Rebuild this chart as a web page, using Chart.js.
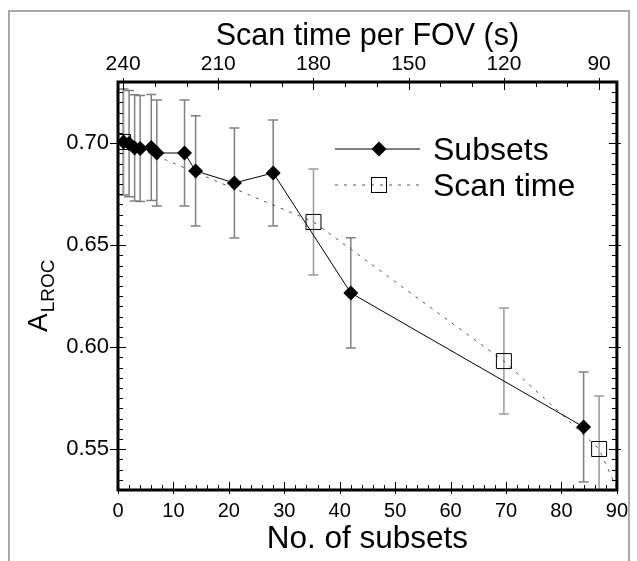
<!DOCTYPE html>
<html><head><meta charset="utf-8">
<script src="https://cdn.jsdelivr.net/npm/chart.js@4"></script>
<style>
html,body{margin:0;padding:0;background:#fff;}
#wrap{position:relative;width:637px;height:561px;overflow:hidden;}
#frame{position:absolute;left:8px;top:10px;width:618px;height:560px;border:2px solid #a8a8a8;border-bottom:none;}
canvas{position:absolute;left:0;top:0;}
</style></head><body>
<div id="wrap"><div id="frame"></div><canvas id="c" width="637" height="561"></canvas></div>
<script>
// ---- data ----
const subsets    = [1, 2, 3, 4, 6, 7, 12, 14, 21, 28, 42, 84];
const subsetAuc  = [0.7006, 0.6998, 0.6977, 0.6974, 0.6979, 0.6952, 0.6952, 0.6864, 0.6805, 0.6854, 0.6266, 0.5609];
const subsetErr  = [0.026, 0.026, 0.026, 0.026, 0.026, 0.026, 0.026, 0.027, 0.027, 0.026, 0.027, 0.027];
const scanTimes  = [240, 180, 120, 90, 60];
const scanAuc    = [0.7006, 0.6614, 0.5932, 0.5501, 0.446];
const scanErr    = [0.026, 0.026, 0.026, 0.026, 0.026];
const subsetTicks = [0, 10, 20, 30, 40, 50, 60, 70, 80, 90];
const scanTicks   = [240, 210, 180, 150, 120, 90];
const aucTicks    = [0.55, 0.60, 0.65, 0.70];

const FONT = '"Liberation Sans", Arial, sans-serif';
Chart.defaults.font.family = FONT;
Chart.defaults.color = '#000';

const errorBars = {
  id: 'errorBars',
  beforeDatasetsDraw(chart) {
    const {ctx, chartArea: a} = chart;
    ctx.save();
    ctx.beginPath(); ctx.rect(a.left, a.top, a.width, a.height); ctx.clip();
    chart.data.datasets.forEach(ds => {
      const xs = chart.scales[ds.xAxisID], ys = chart.scales.y;
      ctx.strokeStyle = ds.errColor; ctx.lineWidth = 1.5;
      ds.data.forEach((p, i) => {
        const e = ds.errors[i];
        const x = xs.getPixelForValue(p.x);
        const yt = ys.getPixelForValue(p.y + e), yb = ys.getPixelForValue(p.y - e);
        ctx.beginPath();
        ctx.moveTo(x, yt); ctx.lineTo(x, yb);
        ctx.moveTo(x - 5, yt); ctx.lineTo(x + 5, yt);
        ctx.moveTo(x - 5, yb); ctx.lineTo(x + 5, yb);
        ctx.stroke();
      });
    });
    ctx.restore();
  }
};

const axisDecor = {
  id: 'axisDecor',
  afterDraw(chart) {
    const {ctx, chartArea: a, scales} = chart;
    ctx.save();
    ctx.strokeStyle = '#000'; ctx.lineWidth = 1;
    const line = (x1, y1, x2, y2) => { ctx.beginPath(); ctx.moveTo(x1, y1); ctx.lineTo(x2, y2); ctx.stroke(); };
    // bottom axis (subsets): minor every 2
    for (let k = 0; k <= 45; k++) {
      const v = k * 2, major = v % 10 === 0;
      const x = Math.round(scales.x.getPixelForValue(v)) + 0.5;
      line(x, a.bottom, x, a.bottom - (major ? 8 : 5));
      if (major) line(x, a.bottom, x, a.bottom + 4);
    }
    // top axis (scan time): minor every 10 s
    for (let t = 90; t <= 240; t += 10) {
      const major = t % 30 === 0;
      const x = Math.round(scales.x2.getPixelForValue(t)) + 0.5;
      line(x, a.top, x, a.top + (major ? 8 : 5));
      if (major) line(x, a.top, x, a.top - 4);
    }
    // left & right axes: minor every 0.005
    for (let k = 106; k <= 146; k++) {
      const v = k * 0.005, major = k % 10 === 0;
      const y = Math.round(scales.y.getPixelForValue(v)) + 0.5;
      line(a.left, y, a.left + (major ? 8 : 5), y);
      line(a.right, y, a.right - (major ? 8 : 5), y);
      if (major) { line(a.left, y, a.left - 8, y); line(a.right, y, a.right + 4, y); }
    }
    // frame
    ctx.lineWidth = 3;
    ctx.strokeRect(a.left, a.top, a.width, a.height);

    // y-axis title A_LROC
    ctx.fillStyle = '#000';
    ctx.save();
    ctx.translate(47, 332);
    ctx.rotate(-Math.PI / 2);
    ctx.textBaseline = 'alphabetic';
    ctx.font = '28px ' + FONT;
    ctx.fillText('A', 0, 0);
    const wA = ctx.measureText('A').width;
    ctx.font = '19px ' + FONT;
    ctx.fillText('LROC', wA + 1, 7);
    ctx.restore();

    // legend
    const ds0 = chart.data.datasets[0], ds1 = chart.data.datasets[1];
    const lx1 = 335, lx2 = 420, mx = 379, tx = 433;
    // row 1
    let y = 149;
    ctx.strokeStyle = ds0.borderColor; ctx.lineWidth = ds0.borderWidth; ctx.setLineDash([]);
    line(lx1, y, lx2, y);
    ctx.fillStyle = '#000';
    const r = ds0.pointRadius;
    ctx.beginPath(); ctx.moveTo(mx - r, y); ctx.lineTo(mx, y - r); ctx.lineTo(mx + r, y); ctx.lineTo(mx, y + r); ctx.closePath(); ctx.fill();
    ctx.font = '32px ' + FONT; ctx.textBaseline = 'alphabetic';
    ctx.fillText(ds0.label, tx, 160);
    // row 2
    y = 185;
    ctx.strokeStyle = ds1.borderColor; ctx.lineWidth = ds1.borderWidth; ctx.setLineDash(ds1.borderDash);
    line(lx1, y, lx2, y);
    ctx.setLineDash([]);
    ctx.strokeStyle = '#000'; ctx.lineWidth = 1;
    ctx.strokeRect(mx - 7.5, y - 7.5, 15, 15);
    ctx.fillText(ds1.label, tx, 196);
    ctx.restore();
  }
};

new Chart(document.getElementById('c'), {
  type: 'scatter',
  data: {
    datasets: [
      {
        label: 'Subsets',
        xAxisID: 'x', yAxisID: 'y',
        data: subsets.map((s, i) => ({x: s, y: subsetAuc[i]})),
        errors: subsetErr, errColor: '#808080',
        showLine: true, borderColor: '#000', borderWidth: 1,
        pointStyle: 'rectRot', pointRadius: 7.5, pointHoverRadius: 7.5,
        pointBackgroundColor: '#000', pointBorderColor: '#000', pointBorderWidth: 0
      },
      {
        label: 'Scan time',
        xAxisID: 'x2', yAxisID: 'y',
        data: scanTimes.map((t, i) => ({x: t, y: scanAuc[i]})),
        errors: scanErr, errColor: '#9a9a9a',
        showLine: true, borderColor: '#555', borderWidth: 1, borderDash: [3, 6],
        pointStyle: 'rect', pointRadius: 10.6, pointHoverRadius: 10.6,
        pointBackgroundColor: 'rgba(0,0,0,0)', pointBorderColor: '#000', pointBorderWidth: 1
      }
    ]
  },
  options: {
    responsive: false, devicePixelRatio: 1, animation: false,
    layout: {padding: {left: 0, right: 19, top: 0, bottom: 0}},
    plugins: {legend: {display: false}, tooltip: {enabled: false}},
    scales: {
      x: {
        type: 'linear', position: 'bottom', min: 0, max: 90,
        afterBuildTicks: s => { s.ticks = subsetTicks.map(v => ({value: v})); },
        afterFit: s => { s.height = 71; },
        grid: {display: false, drawTicks: false}, border: {display: false},
        ticks: {font: {size: 20}, color: '#000', padding: 9, maxRotation: 0, autoSkip: false},
        title: {display: true, text: 'No. of subsets', font: {size: 31.5}, color: '#000', padding: {top: 0, bottom: 3}}
      },
      x2: {
        type: 'linear', position: 'top', reverse: true, min: 84.4, max: 241.6,
        afterBuildTicks: s => { s.ticks = scanTicks.map(v => ({value: v})); },
        afterFit: s => { s.height = 82; },
        grid: {display: false, drawTicks: false}, border: {display: false},
        ticks: {font: {size: 21}, color: '#000', padding: 5, maxRotation: 0, autoSkip: false},
        title: {display: true, text: 'Scan time per FOV (s)', font: {size: 30.5}, color: '#000', padding: {top: 18, bottom: 0}}
      },
      y: {
        type: 'linear', position: 'left', min: 0.53, max: 0.73,
        afterBuildTicks: s => { s.ticks = aucTicks.map(v => ({value: v})); },
        afterFit: s => { s.width = 118; },
        grid: {display: false, drawTicks: false}, border: {display: false},
        ticks: {font: {size: 22}, color: '#000', padding: 9, callback: v => v.toFixed(2)}
      }
    }
  },
  plugins: [errorBars, axisDecor]
});
</script></body></html>
